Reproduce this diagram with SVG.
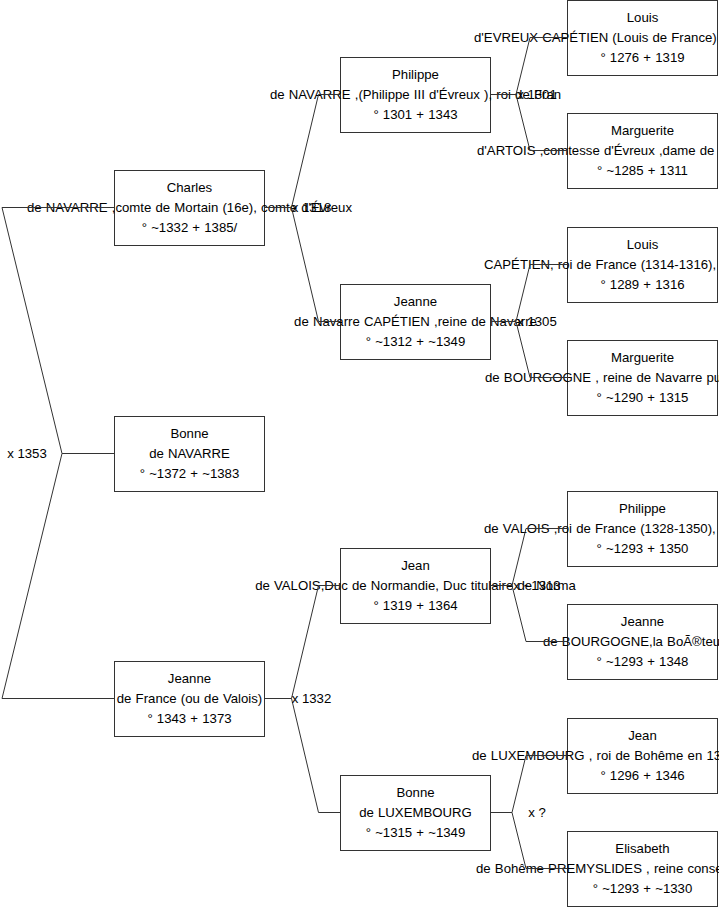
<svg xmlns="http://www.w3.org/2000/svg" width="719" height="908" viewBox="0 0 719 908">
<style>
.box{fill:#fff;stroke:#333;stroke-width:1}
.t{font-family:"Liberation Sans",Arial,sans-serif;font-size:13.2px;word-spacing:0.5px;fill:#000;text-anchor:middle}
.s{text-anchor:start}
.lbl{font-family:"Liberation Sans",Arial,sans-serif;font-size:13.2px;fill:#000;text-anchor:middle}
.c{fill:none;stroke:#333;stroke-width:1}
</style>
<rect width="719" height="908" fill="#fff"/>
<g id="n-charles"><rect class="box" x="114.5" y="170.5" width="150" height="75"/>
<text class="t" x="189.5" y="191.5">Charles</text>
<text class="t" x="189.5" y="211.5">de NAVARRE ,comte de Mortain (16e), comte d'Évreux</text>
<text class="t" x="189.5" y="231.5">° ~1332 + 1385/</text></g>
<g id="n-bonne-navarre"><rect class="box" x="114.5" y="416.5" width="150" height="75"/>
<text class="t" x="189.5" y="437.5">Bonne</text>
<text class="t" x="189.5" y="457.5">de NAVARRE</text>
<text class="t" x="189.5" y="477.5">° ~1372 + ~1383</text></g>
<g id="n-jeanne-france"><rect class="box" x="114.5" y="661.5" width="150" height="75"/>
<text class="t" x="189.5" y="682.5">Jeanne</text>
<text class="t" x="189.5" y="702.5">de France (ou de Valois)</text>
<text class="t" x="189.5" y="722.5">° 1343 + 1373</text></g>
<g id="n-philippe-navarre"><rect class="box" x="340.5" y="57.5" width="150" height="75"/>
<text class="t" x="415.5" y="78.5">Philippe</text>
<text class="t" x="415.5" y="98.5">de NAVARRE ,(Philippe III d'Évreux ), roi de Fran</text>
<text class="t" x="415.5" y="118.5">° 1301 + 1343</text></g>
<g id="n-jeanne-navarre"><rect class="box" x="340.5" y="284.5" width="150" height="75"/>
<text class="t" x="415.5" y="305.5">Jeanne</text>
<text class="t" x="415.5" y="325.5">de Navarre CAPÉTIEN ,reine de Navarre</text>
<text class="t" x="415.5" y="345.5">° ~1312 + ~1349</text></g>
<g id="n-jean-valois"><rect class="box" x="340.5" y="548.5" width="150" height="75"/>
<text class="t" x="415.5" y="569.5">Jean</text>
<text class="t" x="415.5" y="589.5">de VALOIS,Duc de Normandie, Duc titulaire de Norma</text>
<text class="t" x="415.5" y="609.5">° 1319 + 1364</text></g>
<g id="n-bonne-luxembourg"><rect class="box" x="340.5" y="775.5" width="150" height="75"/>
<text class="t" x="415.5" y="796.5">Bonne</text>
<text class="t" x="415.5" y="816.5">de LUXEMBOURG</text>
<text class="t" x="415.5" y="836.5">° ~1315 + ~1349</text></g>
<g id="n-louis-evreux"><rect class="box" x="567.5" y="0.5" width="150" height="75"/>
<text class="t" x="642.5" y="21.5">Louis</text>
<text class="t s" x="474" y="41.5">d'EVREUX CAPÉTIEN (Louis de France)</text>
<text class="t" x="642.5" y="61.5">° 1276 + 1319</text></g>
<g id="n-marguerite-artois"><rect class="box" x="567.5" y="113.5" width="150" height="75"/>
<text class="t" x="642.5" y="134.5">Marguerite</text>
<text class="t s" x="477" y="154.5">d'ARTOIS ,comtesse d'Évreux ,dame de</text>
<text class="t" x="642.5" y="174.5">° ~1285 + 1311</text></g>
<g id="n-louis-capetien"><rect class="box" x="567.5" y="227.5" width="150" height="75"/>
<text class="t" x="642.5" y="248.5">Louis</text>
<text class="t s" x="484" y="268.5">CAPÉTIEN, roi de France (1314-1316),</text>
<text class="t" x="642.5" y="288.5">° 1289 + 1316</text></g>
<g id="n-marguerite-bourgogne"><rect class="box" x="567.5" y="340.5" width="150" height="75"/>
<text class="t" x="642.5" y="361.5">Marguerite</text>
<text class="t s" x="485" y="381.5">de BOURGOGNE , reine de Navarre pu</text>
<text class="t" x="642.5" y="401.5">° ~1290 + 1315</text></g>
<g id="n-philippe-valois"><rect class="box" x="567.5" y="491.5" width="150" height="75"/>
<text class="t" x="642.5" y="512.5">Philippe</text>
<text class="t s" x="484" y="532.5">de VALOIS ,roi de France (1328-1350),</text>
<text class="t" x="642.5" y="552.5">° ~1293 + 1350</text></g>
<g id="n-jeanne-bourgogne"><rect class="box" x="567.5" y="604.5" width="150" height="75"/>
<text class="t" x="642.5" y="625.5">Jeanne</text>
<text class="t s" x="543" y="645.5">de BOURGOGNE,la BoÃ®teu</text>
<text class="t" x="642.5" y="665.5">° ~1293 + 1348</text></g>
<g id="n-jean-luxembourg"><rect class="box" x="567.5" y="718.5" width="150" height="75"/>
<text class="t" x="642.5" y="739.5">Jean</text>
<text class="t s" x="472" y="759.5">de LUXEMBOURG , roi de Bohême en 13</text>
<text class="t" x="642.5" y="779.5">° 1296 + 1346</text></g>
<g id="n-elisabeth"><rect class="box" x="567.5" y="831.5" width="150" height="75"/>
<text class="t" x="642.5" y="852.5">Elisabeth</text>
<text class="t s" x="476" y="872.5">de Bohême PREMYSLIDES , reine conse</text>
<text class="t" x="642.5" y="892.5">° ~1293 + ~1330</text></g>
<g id="connectors">
<path class="c" d="M114.5,207.5 H2 L62,453.5 L2,698.5 H114.5 M62,453.5 H114.5"/>
<path class="c" d="M340.5,94.5 H318.5 L291.5,207.5 L318.5,321.5 H340.5 M291.5,207.5 H264.5"/>
<path class="c" d="M340.5,585.5 H318.5 L291.5,698.5 L318.5,812.5 H340.5 M291.5,698.5 H264.5"/>
<path class="c" d="M567.5,37.5 H530 L516,94.5 L530,150.5 H567.5 M516,94.5 H490.5"/>
<path class="c" d="M567.5,264.5 H530 L516,321.5 L530,377.5 H567.5 M516,321.5 H490.5"/>
<path class="c" d="M567.5,528.5 H526 L512,585.5 L526,641.5 H567.5 M512,585.5 H490.5"/>
<path class="c" d="M567.5,755.5 H526 L512,812.5 L526,868.5 H567.5 M512,812.5 H490.5"/>
<text class="lbl" x="27" y="457.5">x 1353</text>
<text class="lbl" x="311.5" y="212">x 1318</text>
<text class="lbl" x="311.5" y="703">x 1332</text>
<text class="lbl" x="537" y="99">x 1301</text>
<text class="lbl" x="537" y="326">x 1305</text>
<text class="lbl" x="537" y="590">x ~1313</text>
<text class="lbl" x="537" y="817">x ?</text>
</g>
</svg>
